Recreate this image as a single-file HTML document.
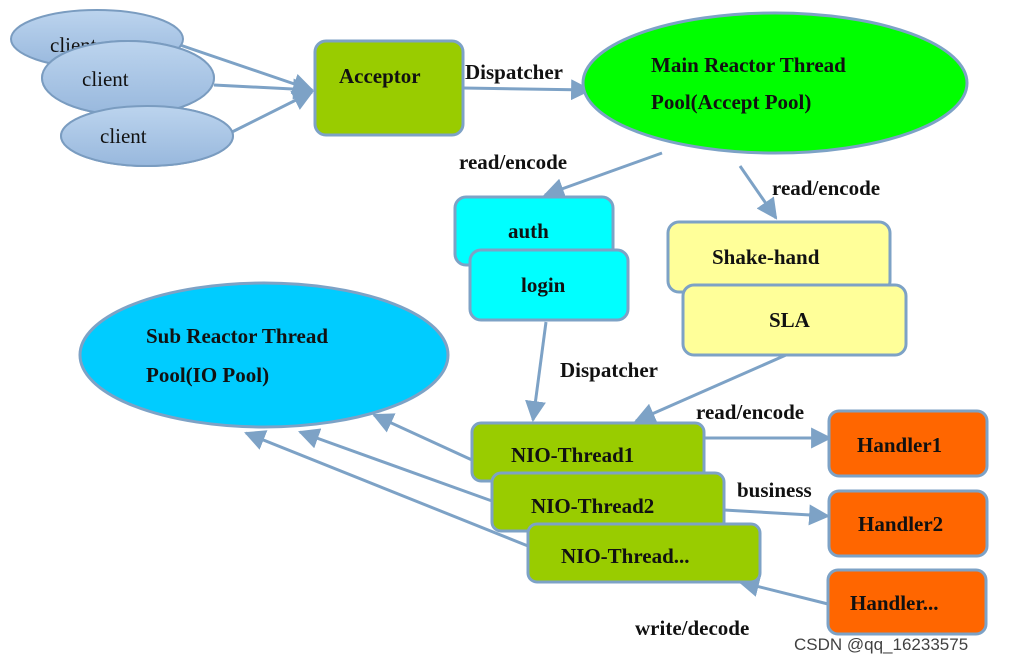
<!DOCTYPE html>
<html><head><style>html,body{margin:0;padding:0;background:#fff}svg{display:block}
text{font-family:"Liberation Serif",serif;font-weight:bold;fill:#111}</style></head><body>
<svg width="1009" height="663" viewBox="0 0 1009 663" xmlns="http://www.w3.org/2000/svg">
<defs>
<marker id="a" viewBox="0 0 10 10" refX="9" refY="5" markerWidth="7" markerHeight="7" orient="auto"><path d="M0,0L10,5L0,10z" fill="#7da2c6"/></marker>
<linearGradient id="cg" x1="0" y1="0" x2="0" y2="1"><stop offset="0" stop-color="#bcd4ee"/><stop offset="1" stop-color="#98b8dd"/></linearGradient>
</defs>
<g stroke="#7da2c6" stroke-width="3" fill="none" marker-end="url(#a)">
<line x1="180" y1="45" x2="312" y2="90"/>
<line x1="214" y1="85" x2="312" y2="90"/>
<line x1="232" y1="132" x2="312" y2="92"/>
<line x1="463" y1="88" x2="590" y2="90"/>
<line x1="662" y1="153" x2="545" y2="195"/>
<line x1="740" y1="166" x2="776" y2="218"/>
<line x1="546" y1="322" x2="533" y2="420"/>
<line x1="786" y1="355" x2="636" y2="421"/>
<line x1="472" y1="460" x2="374" y2="415"/>
<line x1="492" y1="501" x2="300" y2="432"/>
<line x1="528" y1="546" x2="246" y2="433"/>
<line x1="704" y1="438" x2="830" y2="438"/>
<line x1="724" y1="510" x2="828" y2="516"/>
<line x1="828" y1="604" x2="740" y2="582"/>
</g>
<g stroke="#7a9cc0" stroke-width="2" fill="url(#cg)">
<ellipse cx="97" cy="39" rx="86" ry="29"/>
<ellipse cx="128" cy="78" rx="86" ry="37"/>
<ellipse cx="147" cy="136" rx="86" ry="30"/>
</g>
<text x="50" y="52" font-weight="normal" style="font-weight:normal" font-size="21">client</text>
<ellipse cx="97" cy="39" rx="86" ry="29" fill="none" stroke="none"/>
<g stroke="#7a9cc0" stroke-width="2" fill="url(#cg)"><ellipse cx="128" cy="78" rx="86" ry="37"/><ellipse cx="147" cy="136" rx="86" ry="30"/></g>
<text x="82" y="86" style="font-weight:normal" font-size="21">client</text>
<text x="100" y="143" style="font-weight:normal" font-size="21">client</text>
<g stroke="#7da2c6" stroke-width="3">
<rect x="315" y="41" width="148" height="94" rx="11" fill="#99cc00"/>
<ellipse cx="775" cy="83" rx="192" ry="70" fill="#00ff00"/>
<rect x="455" y="197" width="158" height="68" rx="11" fill="#00ffff"/>
<rect x="470" y="250" width="158" height="70" rx="11" fill="#00ffff"/>
<rect x="668" y="222" width="222" height="70" rx="11" fill="#ffff99"/>
<rect x="683" y="285" width="223" height="70" rx="11" fill="#ffff99"/>
<ellipse cx="264" cy="355" rx="184" ry="72" fill="#00ccff"/>
<rect x="472" y="423" width="232" height="58" rx="9" fill="#99cc00"/>
<rect x="492" y="473" width="232" height="58" rx="9" fill="#99cc00"/>
<rect x="528" y="524" width="232" height="58" rx="9" fill="#99cc00"/>
<rect x="829" y="411" width="158" height="65" rx="10" fill="#ff6600"/>
<rect x="829" y="491" width="158" height="65" rx="10" fill="#ff6600"/>
<rect x="828" y="570" width="158" height="64" rx="10" fill="#ff6600"/>
</g>
<g font-size="21">
<text x="339" y="83">Acceptor</text>
<text x="465" y="79">Dispatcher</text>
<text x="651" y="72">Main  Reactor  Thread</text>
<text x="651" y="109">Pool(Accept Pool)</text>
<text x="459" y="169">read/encode</text>
<text x="772" y="195">read/encode</text>
<text x="508" y="238">auth</text>
<text x="521" y="292">login</text>
<text x="712" y="264">Shake-hand</text>
<text x="769" y="327">SLA</text>
<text x="146" y="343">Sub  Reactor  Thread</text>
<text x="146" y="382">Pool(IO Pool)</text>
<text x="560" y="377">Dispatcher</text>
<text x="696" y="419">read/encode</text>
<text x="737" y="497">business</text>
<text x="635" y="635">write/decode</text>
<text x="511" y="462">NIO-Thread1</text>
<text x="531" y="513">NIO-Thread2</text>
<text x="561" y="563">NIO-Thread...</text>
<text x="857" y="452">Handler1</text>
<text x="858" y="531">Handler2</text>
<text x="850" y="610">Handler...</text>
</g>
<text x="794" y="650" font-family="Liberation Sans,sans-serif" style="font-weight:normal;font-family:'Liberation Sans',sans-serif" font-size="17" fill="#999" opacity="0.8">CSDN @qq_16233575</text>
</svg>
</body></html>
